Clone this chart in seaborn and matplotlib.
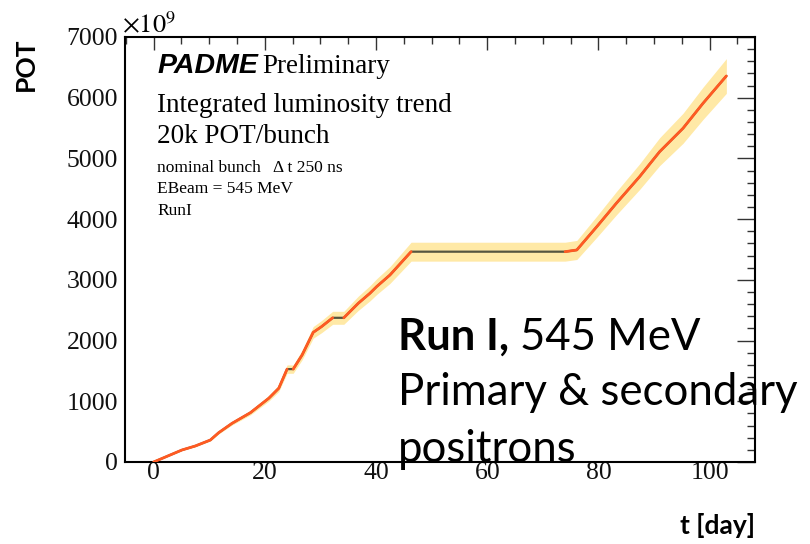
import numpy as np
import pandas as pd
import matplotlib
matplotlib.use("Agg")
import matplotlib.pyplot as plt
from matplotlib.ticker import MultipleLocator
import seaborn as sns

# Integrated protons-on-target vs. time (Run I)
days = [0, 5.1, 7.5, 10.2, 11.7, 14.1, 17.4, 20.7, 22.5, 24.0,
        25.1, 26.7, 28.7, 30.2, 32.2,
        34.2, 36.8, 38.9, 40.1, 42.5, 46.3,
        74.0, 76.1, 79.7, 83.2, 87.4, 91.0, 95.2, 98.8, 103.0]
pot = [0, 198, 264, 362, 483, 637, 812, 1049, 1214, 1530,
       1530, 1762, 2135, 2230, 2375,
       2375, 2614, 2779, 2888, 3080, 3464,
       3464, 3492, 3876, 4260, 4700, 5111, 5496, 5908, 6358]
# data-taking period each point belongs to (gaps = no beam)
period = [1] * 10 + [2] * 5 + [3] * 6 + [4] * 9
rel_err = 0.045

x_ticks = [0, 20, 40, 60, 80, 100]
y_ticks = [0, 1000, 2000, 3000, 4000, 5000, 6000, 7000]

df = pd.DataFrame({"day": days, "pot": pot, "period": period})
df["lo"] = df["pot"] * (1 - rel_err)
df["hi"] = df["pot"] * (1 + rel_err)

sns.set_theme(style="white")
plt.rcParams["mathtext.fontset"] = "stix"
plt.rcParams["text.color"] = "black"

W, H = 810, 544
fig = plt.figure(figsize=(W / 100, H / 100), dpi=100)
ax = fig.add_axes([125 / W, 1 - 462 / H, 630 / W, 425 / H])


def fx(x):
    return x / W


def fy(y):
    return 1 - y / H


# uncertainty band
ax.fill_between(df["day"], df["lo"], df["hi"], color="#FFE9A6", lw=0, zorder=1)
# full trend (dark where no beam), then beam periods in orange
sns.lineplot(data=df, x="day", y="pot", ax=ax, color="#55553F", lw=1.6,
             estimator=None, sort=False, zorder=2)
sns.lineplot(data=df, x="day", y="pot", units="period", ax=ax,
             color="#FF5A22", lw=2.0, estimator=None, sort=False, zorder=3)

ax.set_xlim(-5.15, 108.15)
ax.set_ylim(0, 7000)
ax.set_xticks(x_ticks)
ax.set_yticks(y_ticks)
ax.xaxis.set_minor_locator(MultipleLocator(5))
ax.yaxis.set_minor_locator(MultipleLocator(200))
ax.set_xlabel("")
ax.set_ylabel("")

for s in ax.spines.values():
    s.set_visible(True)
    s.set_color("black")
    s.set_linewidth(1.5)

ax.tick_params(which="both", direction="in", top=True, right=True,
               color="#333333", width=1.0)
ax.tick_params(axis="x", which="major", length=9.5, pad=0)
ax.tick_params(axis="x", which="minor", length=5)
ax.tick_params(axis="y", which="major", length=13, pad=5)
ax.tick_params(axis="y", which="minor", length=5.8)
for lab in ax.get_xticklabels() + ax.get_yticklabels():
    lab.set_fontfamily("Liberation Serif")
    lab.set_fontsize(18.5)
    lab.set_color("#111111")

# axis titles
fig.text(fx(26), fy(64), "POT", rotation=90, ha="center", va="center",
         fontfamily="Lato", fontweight="bold", fontsize=19)
fig.text(fx(755), fy(526), "t [day]", ha="right", va="center",
         fontfamily="Lato", fontweight="bold", fontsize=19)
fig.text(fx(122), fy(33), r"$\times10^{9}$", ha="left", va="baseline",
         fontsize=19)

# header text
serif = "Liberation Serif"
fig.text(fx(157), fy(73), "PADME", fontfamily="Liberation Sans",
         fontweight="bold", fontstyle="italic", fontsize=20.5, va="baseline")
fig.text(fx(262), fy(73), "Preliminary", fontfamily=serif, fontsize=19.5,
         va="baseline")
fig.text(fx(157), fy(112), "Integrated luminosity trend", fontfamily=serif,
         fontsize=19.5, va="baseline")
fig.text(fx(157), fy(143), "20k POT/bunch", fontfamily=serif,
         fontsize=19.5, va="baseline")
fig.text(fx(157), fy(172), "nominal bunch   \u0394 t 250 ns", fontfamily=serif,
         fontsize=12.5, va="baseline")
fig.text(fx(157), fy(193), "EBeam = 545 MeV", fontfamily=serif,
         fontsize=12.5, va="baseline")
fig.text(fx(157), fy(215), "RunI", fontfamily=serif, fontsize=12.5,
         va="baseline")

# run annotation
big = 31.5
run_txt = fig.text(fx(398), fy(350), "Run I,", fontfamily="Lato",
                   fontweight="bold", fontsize=big, va="baseline")
fig.canvas.draw()
bb = run_txt.get_window_extent()
fig.text(bb.x1 / W + fx(11), fy(350), "545 MeV", fontfamily="Lato",
         fontsize=big, va="baseline")
fig.text(fx(398), fy(405), "Primary & secondary", fontfamily="Lato",
         fontsize=big, va="baseline")
fig.text(fx(398), fy(462), "positrons", fontfamily="Lato", fontsize=big,
         va="baseline")

fig.savefig("out.png", dpi=100, facecolor="white")
